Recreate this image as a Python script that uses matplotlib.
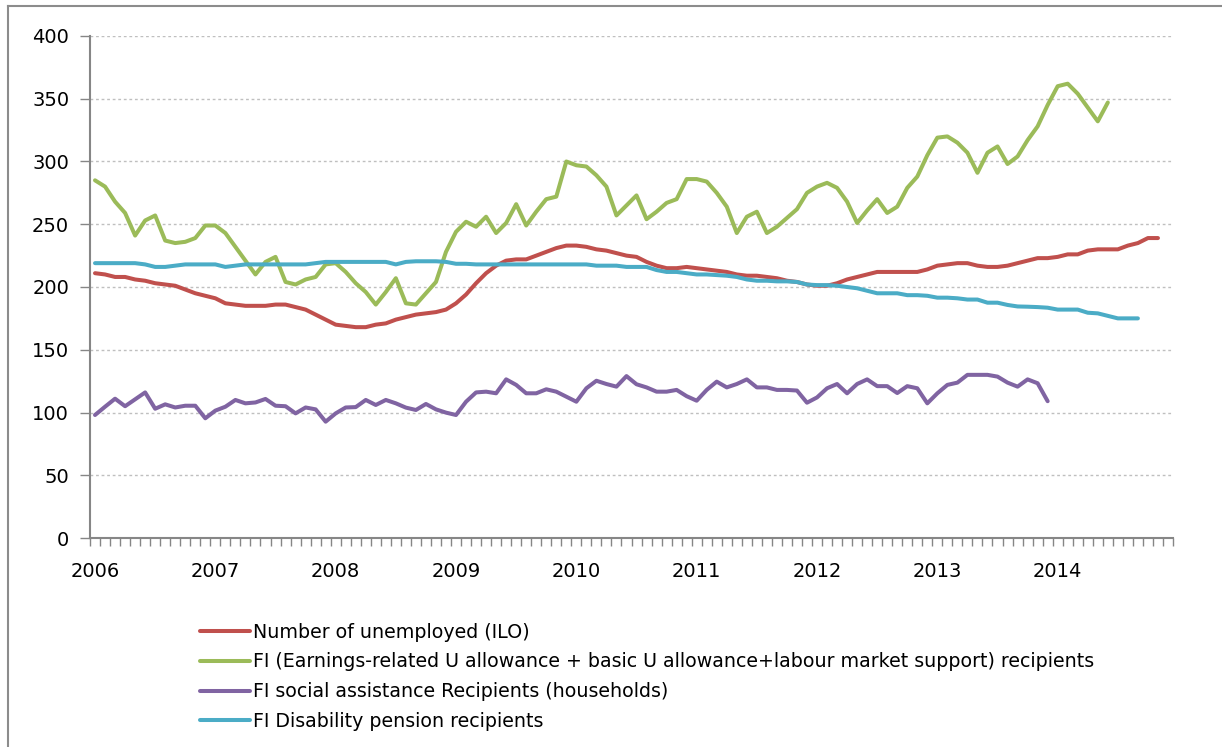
import numpy as np
import matplotlib
matplotlib.use("Agg")
import matplotlib.pyplot as plt
from matplotlib.lines import Line2D

plt.rcParams['font.family'] = ['DejaVu Sans']

# monthly data, Jan 2006 onwards (thousands)
years = [str(y) for y in range(2006, 2015)]

unemployed = [211, 210, 208, 208, 206, 205, 203, 202, 201, 198, 195, 193,
              191, 187, 186, 185, 185, 185, 186, 186, 184, 182, 178, 174,
              170, 169, 168, 168, 170, 171, 174, 176, 178, 179, 180, 182,
              187, 194, 203, 211, 217, 221, 222, 222, 225, 228, 231, 233,
              233, 232, 230, 229, 227, 225, 224, 220, 217, 215, 215, 216,
              215, 214, 213, 212, 210, 209, 209, 208, 207, 205, 204, 202,
              201, 201, 203, 206, 208, 210, 212, 212, 212, 212, 212, 214,
              217, 218, 219, 219, 217, 216, 216, 217, 219, 221, 223, 223,
              224, 226, 226, 229, 230, 230, 230, 233, 235, 239, 239]

u_allowance = [285, 280, 268, 259, 241, 253, 257, 237, 235, 236, 239, 249,
               249, 243, 232, 221, 210, 220, 224, 204, 202, 206, 208, 218,
               219, 212, 203, 196, 186, 196, 207, 187, 186, 195, 204, 228,
               244, 252, 248, 256, 243, 251, 266, 249, 260, 270, 272, 300,
               297, 296, 289, 280, 257, 265, 273, 254, 260, 267, 270, 286,
               286, 284, 275, 264, 243, 256, 260, 243, 248, 255, 262, 275,
               280, 283, 279, 268, 251, 261, 270, 259, 264, 279, 288, 305,
               319, 320, 315, 307, 291, 307, 312, 298, 304, 317, 328, 345,
               360, 362, 354, 343, 332, 347]

social_assistance = [98, 104.6, 111, 105, 110.5, 116, 103, 106.5, 104, 105.4, 105.4, 95.4,
                     101.5, 104.6, 110, 107.3, 108, 110.8, 105.4, 105, 99.3, 104, 102.5, 92.7,
                     99.3, 104, 104.3, 110, 106, 110, 107.3, 103.9, 102, 106.8, 102.5, 99.9,
                     98, 108.6, 116, 116.6, 115.3, 126.4, 122, 115.3, 115.3, 118.5, 116.6, 112.6,
                     108.6, 119.3, 125.3, 122.7, 120.6, 129, 122.5, 120, 116.6, 116.6, 118, 113,
                     109.4, 118, 124.6, 120, 122.7, 126.4, 120, 120, 118, 118, 117.5, 107.8,
                     112, 119.3, 122.7, 115.3, 122.7, 126.4, 121, 121, 115.5, 121, 119.3, 107.3,
                     115.3, 122, 123.8, 130, 130, 130, 128.6, 123.8, 120.6, 126.4, 123.3, 109]

disability = [219, 219, 219, 219, 219, 218, 216, 216, 217, 218, 218, 218,
              218, 216, 217, 218, 218, 218, 218, 218, 218, 218, 219, 220,
              220, 220, 220, 220, 220, 220, 218, 220, 220.5, 220.5, 220.5, 220,
              218.5, 218.5, 218, 218, 218, 218, 218, 218, 218, 218, 218, 218,
              218, 218, 217, 217, 217, 216, 216, 216, 213.5, 212, 212, 211,
              210, 210, 209.5, 209, 208, 206, 205, 205, 204.5, 204.5, 204, 202,
              201.5, 201.5, 201, 200, 199, 197, 195, 195, 195, 193.5, 193.5, 193,
              191.5, 191.5, 191, 190, 190, 187.5, 187.5, 185.7, 184.5, 184.3, 184, 183.5,
              182, 182, 182, 179.5, 179, 177, 175, 175, 175]

labels = ["Number of unemployed (ILO)",
          "FI (Earnings-related U allowance + basic U allowance+labour market support) recipients",
          "FI social assistance Recipients (households)",
          "FI Disability pension recipients"]
colors = ["#C0504D", "#9BBB59", "#8064A2", "#4BACC6"]

W, H = 1222, 747
fig = plt.figure(figsize=(W / 100, H / 100), dpi=100)
ax = fig.add_axes([90 / W, 1 - 538 / H, (1173 - 90) / W, (538 - 36) / H])

handles = []
for data, lab, col in zip([unemployed, u_allowance, social_assistance, disability], labels, colors):
    h, = ax.plot(np.arange(len(data)), data, color=col, lw=2.9, label=lab,
                 solid_joinstyle='round', solid_capstyle='round')
    handles.append(h)

n_months = 12 * len(years)
ax.set_xlim(-0.5, n_months - 0.5)
ax.set_ylim(0, 400)
ax.set_yticks(range(0, 401, 50))
ax.set_xticks(np.arange(0, n_months, 12))
ax.set_xticklabels(years)
ax.set_xticks(np.arange(-0.5, n_months, 1), minor=True)

axis_col = "#868686"
ax.tick_params(axis='x', which='major', length=0, pad=17, labelsize=14)
ax.tick_params(axis='x', which='minor', length=6, width=1, color=axis_col, direction='out')
ax.tick_params(axis='y', length=7, width=1, color=axis_col, pad=8, labelsize=14)
for lbl in ax.get_xticklabels() + ax.get_yticklabels():
    lbl.set_color('black')

ax.yaxis.grid(True, color='#BFBFBF', linestyle=(0, (2, 2)), lw=1)
ax.set_axisbelow(True)
for s in ['top', 'right']:
    ax.spines[s].set_visible(False)
for s in ['left', 'bottom']:
    ax.spines[s].set_color(axis_col)
    ax.spines[s].set_linewidth(1.5)

# chart area border (top and left edges are visible in the crop)
fig.add_artist(Line2D([8 / W, 1], [1 - 6 / H, 1 - 6 / H], color='#8C8C8C', lw=1.5))
fig.add_artist(Line2D([8 / W, 8 / W], [0, 1 - 6 / H], color='#8C8C8C', lw=1.5))

fs = 13.7
fig.legend(handles, labels, loc='upper left', bbox_to_anchor=(200 / W, 1 - 622.5 / H),
           frameon=False, fontsize=fs, handlelength=50 / (fs * 100 / 72),
           handletextpad=0.15, labelspacing=0.57, borderpad=0, borderaxespad=0)

fig.savefig("out.png", dpi=100)
